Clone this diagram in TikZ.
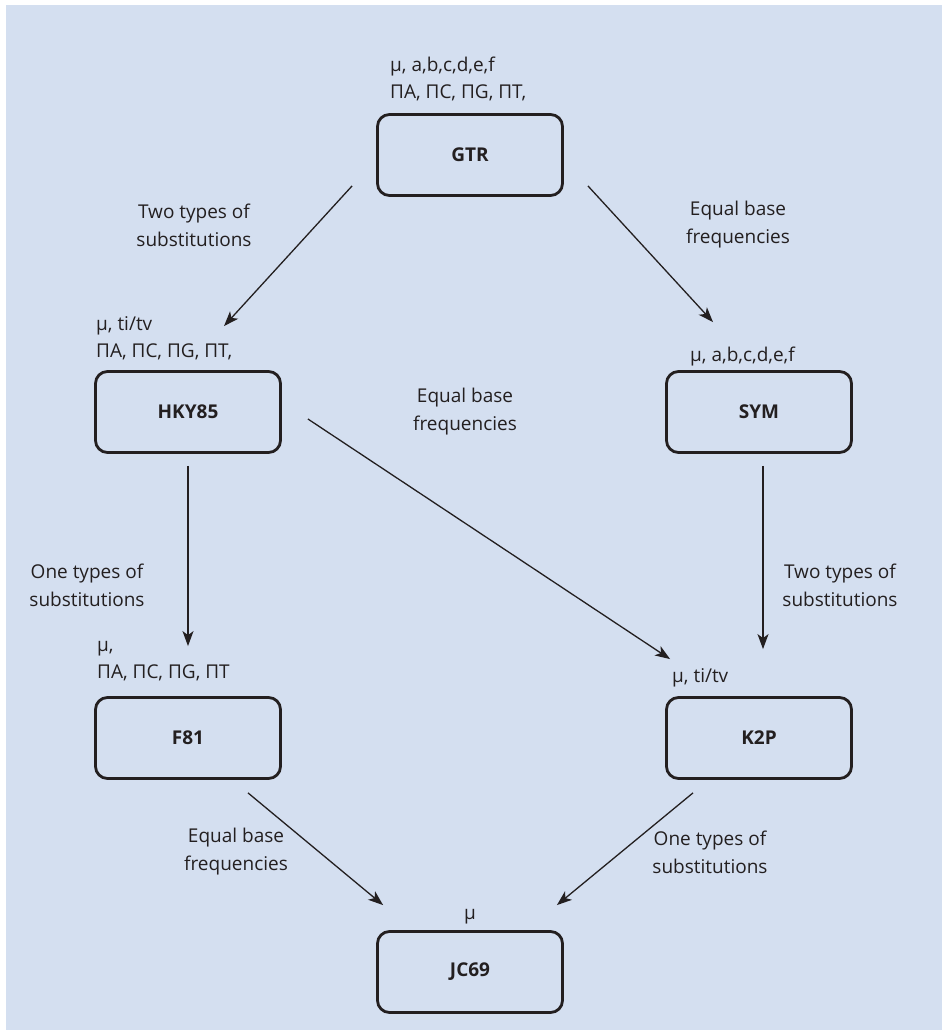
\documentclass[tikz,border=0pt]{standalone}
\usepackage{fontspec}
\setmainfont{Open Sans}
\usetikzlibrary{positioning, arrows.meta}

\definecolor{panel}{RGB}{212,223,240}
\definecolor{ink}{RGB}{35,31,32}

\begin{document}
\begin{tikzpicture}[
    x=1pt, y=1pt,
    model/.style={
        draw=ink,
        line width=2.8pt,
        rounded corners=12pt,
        minimum width=185pt,
        minimum height=81pt,
        text=ink,
        font=\fontsize{19}{23}\selectfont\bfseries
    },
    params/.style={align=left, inner sep=0pt, text=ink, font=\fontsize{19}{27}\selectfont},
    why/.style={align=center, inner sep=0pt, text=ink, font=\fontsize{19}{28}\selectfont},
    arrow/.style={draw=ink, line width=1.3pt, -{Stealth[length=15pt, width=11pt, inset=4pt]}}
]
\useasboundingbox (0,0) rectangle (942,1030);
\fill[panel] (6,0) rectangle (942,1025);

% models
\node[model] (gtr) at (470,875) {GTR};
\node[model] (hky) at (188,618) {HKY85};
\node[model] (sym) at (759,618) {SYM};
\node[model] (f81) at (188,292) {F81};
\node[model] (k2p) at (759,292) {K2P};
\node[model] (jc) at (470,58) {JC69};

% parameters
\node[params, anchor=west] (gtrp) at (390,951) {µ, a,b,c,d,e,f\\ΠA, ΠC, ΠG, ΠT,};
\node[params, anchor=west] (hkyp) at (96,692) {µ, ti/tv\\ΠA, ΠC, ΠG, ΠT,};
\node[params, anchor=west] (symp) at (690,673) {µ, a,b,c,d,e,f};
\node[params, anchor=west] (f81p) at (97,369) {µ,\\ΠA, ΠC, ΠG, ΠT};
\node[params, anchor=west] (k2pp) at (672,352) {µ, ti/tv};
\node[params] (jcp) [above=6pt of jc] {µ};

% constraints
\node[why] (l1) at (194,805) {Two types of\\substitutions};
\node[why] (l2) at (738,805) {Equal base\\frequencies};
\node[why] (l3) at (465,618) {Equal base\\frequencies};
\node[why] (l4) at (87,445) {One types of\\substitutions};
\node[why] (l5) at (840,445) {Two types of\\substitutions};
\node[why] (l6) at (236,178) {Equal base\\frequencies};
\node[why] (l7) at (710,178) {One types of\\substitutions};

\draw[arrow] ([shift={(-24,11)}]gtr.south west) -- ([shift={(36,44)}]hky.north);
\draw[arrow] ([shift={(24,11)}]gtr.south east) -- ([shift={(-46,48)}]sym.north);
\draw[arrow] ([shift={(0,-12)}]hky.south) -- ([shift={(0,50)}]f81.north);
\draw[arrow] ([shift={(4,-12)}]sym.south) -- ([shift={(4,47)}]k2p.north);
\draw[arrow] ([shift={(26,-7)}]hky.east) -- ([shift={(5,37)}]k2p.north west);
\draw[arrow] ([shift={(60,-13)}]f81.south) -- ([shift={(7,25)}]jc.north west);
\draw[arrow] ([shift={(-66,-13)}]k2p.south) -- ([shift={(-7,25)}]jc.north east);

\end{tikzpicture}
\end{document}
